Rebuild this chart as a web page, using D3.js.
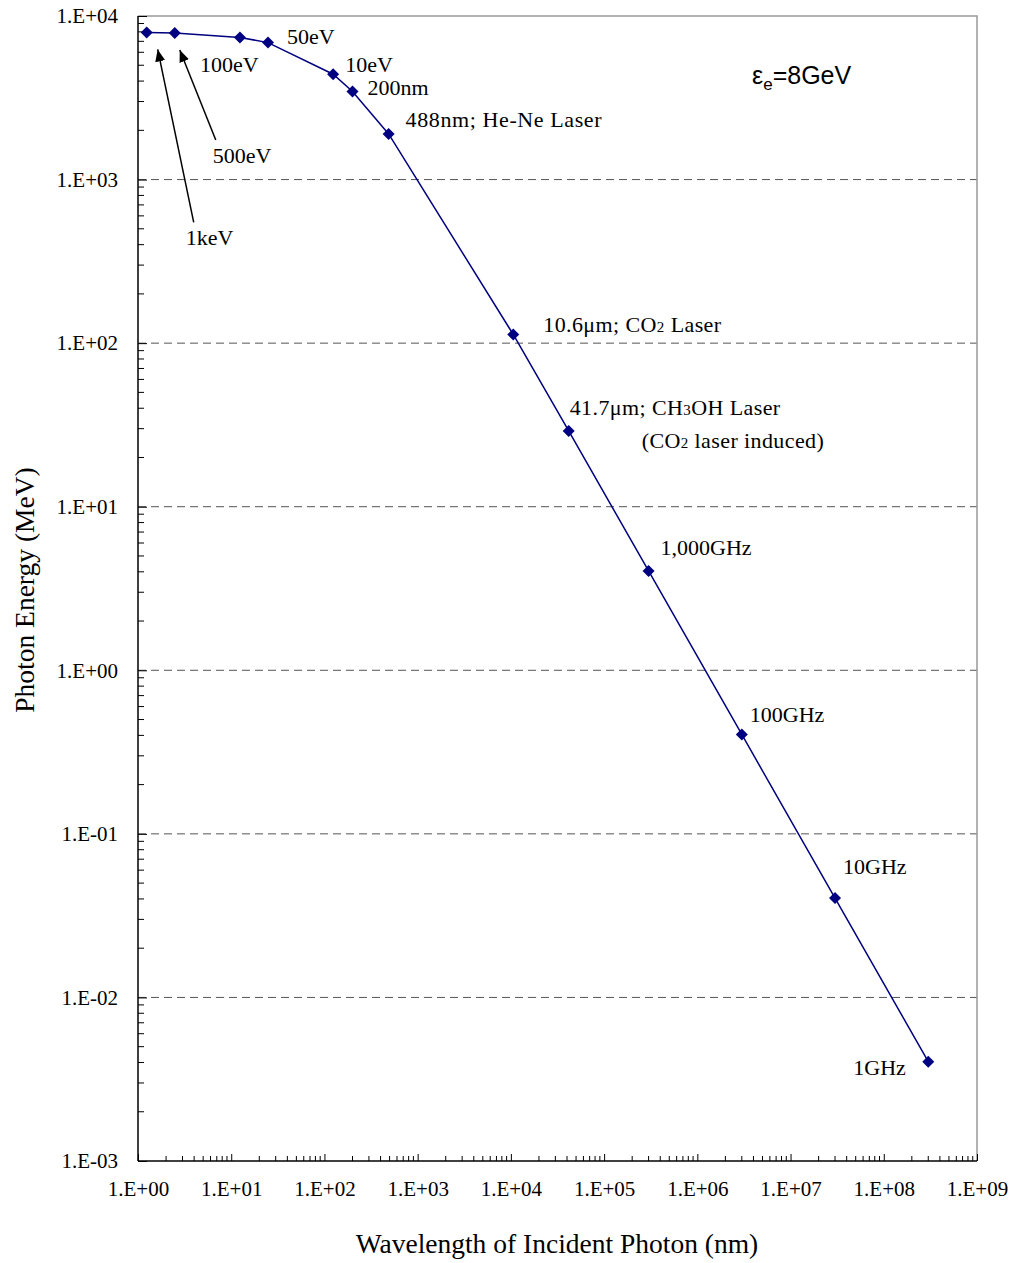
<!DOCTYPE html>
<html>
<head>
<meta charset="utf-8">
<script src="https://d3js.org/d3.v7.min.js"></script>
<style>
  body { margin: 0; background: #fff; }
  text { font-family: "Liberation Serif", "Times New Roman", serif; fill: #000; }
</style>
</head>
<body>
<div id="chart"></div>
<script>
// wavelength of incident photon (nm) and scattered photon energy (MeV)
const names = ["1keV", "500eV", "100eV", "50eV", "10eV", "200nm", "488nm", "10.6um", "41.7um",
               "1000GHz", "100GHz", "10GHz", "1GHz"];
const wavelength = [1.24, 2.48, 12.4, 24.8, 124, 200, 488, 10600, 41700, 3e5, 3e6, 3e7, 3e8];
const energy = [7935, 7872, 7397, 6877, 4406, 3455, 1900, 113, 29.05, 4.05, 0.405, 0.0405, 0.00405];

const xTicks = [1e0, 1e1, 1e2, 1e3, 1e4, 1e5, 1e6, 1e7, 1e8, 1e9];
const yTicks = [1e-3, 1e-2, 1e-1, 1e0, 1e1, 1e2, 1e3, 1e4];
const fmtExp = v => {
  const e = Math.round(Math.log10(v));
  return "1.E" + (e < 0 ? "-" : "+") + String(Math.abs(e)).padStart(2, "0");
};

const width = 1017, height = 1263;
const pLeft = 138, pRight = 977, pTop = 16, pBottom = 1161;

const svg = d3.select("#chart").append("svg")
  .attr("width", width).attr("height", height);

const x = d3.scaleLog().domain([1e0, 1e9]).range([pLeft, pRight]);
const y = d3.scaleLog().domain([1e-3, 1e4]).range([pBottom, pTop]);

// dashed grid lines
svg.append("g").selectAll("line")
  .data(yTicks.slice(1, -1)).enter().append("line")
  .attr("x1", pLeft).attr("x2", pRight)
  .attr("y1", d => y(d)).attr("y2", d => y(d))
  .style("stroke", "#555").style("stroke-width", 1)
  .style("stroke-dasharray", "8,5");

// frame: top and right gray
svg.append("path")
  .attr("d", `M${pLeft},${pTop}H${pRight}V${pBottom}`)
  .style("fill", "none").style("stroke", "#999").style("stroke-width", 1.5);

// minor tick values
const minor = (lo, hi) => {
  const out = [];
  for (let e = lo; e < hi; e++) for (let k = 2; k <= 9; k++) out.push(k * Math.pow(10, e));
  return out;
};

// x axis (ticks inward)
const xAxis = d3.axisBottom(x).tickValues(xTicks).tickFormat(fmtExp).tickSize(-7).tickPadding(20);
const gx = svg.append("g").attr("transform", `translate(0,${pBottom})`).call(xAxis);
gx.select(".domain").attr("d", `M${pLeft},0H${pRight}`).style("stroke", "#000").style("stroke-width", 1.5);
gx.selectAll("text").style("font-size", "21px").style("font-family", "Liberation Serif");
gx.append("g").selectAll("line").data(minor(0, 9)).enter().append("line")
  .attr("x1", d => x(d)).attr("x2", d => x(d)).attr("y1", 0).attr("y2", -5)
  .style("stroke", "#000");

// y axis (ticks inward)
const yAxis = d3.axisLeft(y).tickValues(yTicks).tickFormat(fmtExp).tickSize(-9).tickPadding(20);
const gy = svg.append("g").attr("transform", `translate(${pLeft},0)`).call(yAxis);
gy.select(".domain").attr("d", `M0,${pTop}V${pBottom}`).style("stroke", "#000").style("stroke-width", 1.5);
gy.selectAll("text").style("font-size", "21px").style("font-family", "Liberation Serif");
gy.append("g").selectAll("line").data(minor(-3, 4)).enter().append("line")
  .attr("x1", 0).attr("x2", 6).attr("y1", d => y(d)).attr("y2", d => y(d))
  .style("stroke", "#000");

// axis titles
svg.append("text").attr("x", 557).attr("y", 1253)
  .attr("text-anchor", "middle").style("font-size", "27.5px")
  .text("Wavelength of Incident Photon (nm)");
svg.append("text").attr("transform", "translate(34,590) rotate(-90)")
  .attr("text-anchor", "middle").style("font-size", "27.5px")
  .text("Photon Energy (MeV)");

// data line + markers
const pts = wavelength.map((w, i) => ({ name: names[i], w, e: energy[i] }));
svg.append("path").datum(pts)
  .attr("d", d3.line().x(d => x(d.w)).y(d => y(d.e)))
  .style("fill", "none").style("stroke", "#000080").style("stroke-width", 1.5);
svg.append("g").selectAll("path").data(pts).enter().append("path")
  .attr("transform", d => `translate(${x(d.w)},${y(d.e)}) rotate(45)`)
  .attr("d", d3.symbol(d3.symbolSquare, 72))
  .style("fill", "#000080");

// annotations (offsets from the point they describe)
const labels = {
  "1keV":   [{ t: "1keV", dx: 39, dy: 213 }],
  "500eV":  [{ t: "500eV", dx: 38, dy: 130 }],
  "100eV":  [{ t: "100eV", dx: -40, dy: 35 }],
  "50eV":   [{ t: "50eV", dx: 19, dy: 1 }],
  "10eV":   [{ t: "10eV", dx: 12, dy: -2 }],
  "200nm":  [{ t: "200nm", dx: 15, dy: 4 }],
  "488nm":  [{ t: "488nm; He-Ne Laser", dx: 17, dy: -7, ls: 0.6 }],
  "10.6um": [{ t: ["10.6μm; CO", "2", " Laser"], dx: 30, dy: -2, ls: 0.4 }],
  "41.7um": [{ t: ["41.7μm; CH", "3", "OH Laser"], dx: 1, dy: -16, ls: 0.4 },
             { t: ["(CO", "2", " laser induced)"], dx: 73, dy: 17, ls: 0.4 }],
  "1000GHz": [{ t: "1,000GHz", dx: 12, dy: -16 }],
  "100GHz": [{ t: "100GHz", dx: 8, dy: -12 }],
  "10GHz":  [{ t: "10GHz", dx: 8, dy: -24 }],
  "1GHz":   [{ t: "1GHz", dx: -75, dy: 13 }]
};
const ann = svg.append("g").style("font-size", "22px");
pts.forEach(p => {
  (labels[p.name] || []).forEach(l => {
    const tx = ann.append("text").attr("x", x(p.w) + l.dx).attr("y", y(p.e) + l.dy)
      .style("letter-spacing", (l.ls || 0) + "px");
    if (typeof l.t === "string") tx.text(l.t);
    else {
      tx.append("tspan").text(l.t[0]);
      tx.append("tspan").style("font-size", "15px").text(l.t[1]);
      tx.append("tspan").text(l.t[2]);
    }
  });
});

// arrows for the two crowded points
const defs = svg.append("defs");
defs.append("marker").attr("id", "ah").attr("viewBox", "0 0 12 10")
  .attr("refX", 12).attr("refY", 5).attr("markerWidth", 12).attr("markerHeight", 10)
  .attr("markerUnits", "userSpaceOnUse").attr("orient", "auto")
  .append("path").attr("d", "M0,0L12,5L0,10Z").style("fill", "#000");
const arrows = [
  { name: "1keV", tip: [11, 17], tail: [47, 190] },
  { name: "500eV", tip: [5, 17], tail: [41, 107] }
];
arrows.forEach(a => {
  const p = pts.find(d => d.name === a.name);
  svg.append("line")
    .attr("x1", x(p.w) + a.tail[0]).attr("y1", y(p.e) + a.tail[1])
    .attr("x2", x(p.w) + a.tip[0]).attr("y2", y(p.e) + a.tip[1])
    .style("stroke", "#000").style("stroke-width", 1.5)
    .attr("marker-end", "url(#ah)");
});

// beam energy note
const note = svg.append("text").attr("x", 752).attr("y", 84)
  .style("font-family", "Liberation Sans, Arial, sans-serif").style("font-size", "25px");
note.append("tspan").text("ε");
note.append("tspan").attr("dy", 6).style("font-size", "17px").text("e");
note.append("tspan").attr("dy", -6).text("=8GeV");
</script>
</body>
</html>
